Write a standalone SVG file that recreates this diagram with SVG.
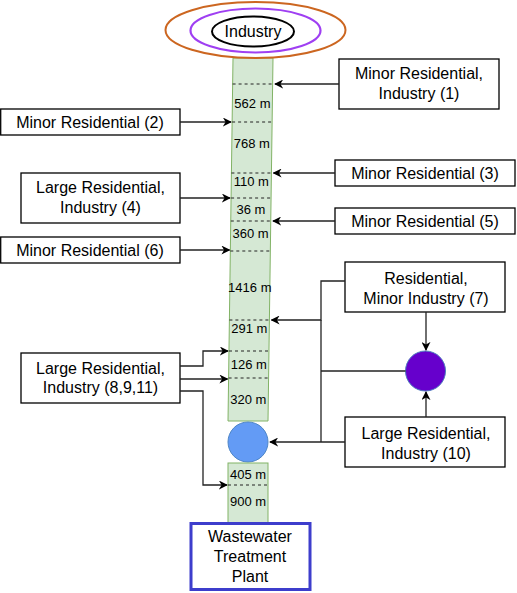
<svg xmlns="http://www.w3.org/2000/svg" width="517" height="593" viewBox="0 0 517 593">
<defs>
<marker id="arr" viewBox="0 0 10 10" refX="9" refY="5" markerWidth="9" markerHeight="9" markerUnits="userSpaceOnUse" orient="auto">
<path d="M0,0 L10,5 L0,10 L3,5 z" fill="#000"/>
</marker>
<style>
text{font-family:"Liberation Sans",Arial,sans-serif;fill:#000;text-anchor:middle}
.box{fill:#fff;stroke:#000;stroke-width:1.3}
.t{font-size:16px}
.m{font-size:13px}
.dash{stroke:#222;stroke-width:1;stroke-dasharray:3,3;fill:none}
.c{fill:none;stroke:#222;stroke-width:1.3}
.ca{fill:none;stroke:#222;stroke-width:1.3;marker-end:url(#arr)}
</style>
</defs>
<rect width="517" height="593" fill="#fff"/>

<g id="pipe-upper">
<polygon points="233,58 273,58 268,421 228,421" fill="#d5e8d4" stroke="#82b366" stroke-width="1"/>
<line class="dash" x1="232.6" y1="84" x2="272.6" y2="84"/>
<line class="dash" x1="232.1" y1="122" x2="272.1" y2="122"/>
<line class="dash" x1="231.4" y1="173" x2="271.4" y2="173"/>
<line class="dash" x1="231.1" y1="198" x2="271.1" y2="198"/>
<line class="dash" x1="230.8" y1="221" x2="270.8" y2="221"/>
<line class="dash" x1="230.3" y1="251" x2="270.3" y2="251"/>
<line class="dash" x1="229.4" y1="320" x2="269.4" y2="320"/>
<line class="dash" x1="229.0" y1="351" x2="269.0" y2="351"/>
<line class="dash" x1="228.6" y1="378" x2="268.6" y2="378"/>
<text class="m" x="252.4" y="107.5">562 m</text>
<text class="m" x="251.8" y="147.5">768 m</text>
<text class="m" x="251.3" y="185.5">110 m</text>
<text class="m" x="250.9" y="213.5">36 m</text>
<text class="m" x="250.6" y="237.5">360 m</text>
<text class="m" x="249.8" y="291.5">1416 m</text>
<text class="m" x="249.3" y="332.5">291 m</text>
<text class="m" x="248.8" y="368.5">126 m</text>
<text class="m" x="248.3" y="403.5">320 m</text>
</g>

<g id="industry">
<ellipse cx="255.5" cy="30" rx="90" ry="28" fill="#fff" stroke="#cc6620" stroke-width="2"/>
<ellipse cx="255.5" cy="30.5" rx="65" ry="22" fill="#fff" stroke="#9f3ff2" stroke-width="2.2"/>
<ellipse cx="253" cy="31.5" rx="41" ry="15" fill="#fff" stroke="#000" stroke-width="2"/>
<text class="t" x="253" y="37">Industry</text>
</g>

<g id="junction-blue">
<circle cx="248" cy="442" r="20" fill="#639bf5" stroke="#4e86c6" stroke-width="1"/>
</g>

<g id="pipe-lower">
<rect x="228" y="463" width="40" height="60" fill="#d5e8d4" stroke="#82b366" stroke-width="1"/>
<line class="dash" x1="228" y1="485" x2="268" y2="485"/>
<text class="m" x="248" y="478.5">405 m</text>
<text class="m" x="248" y="505.5">900 m</text>
</g>

<g id="wwtp">
<rect x="191" y="523.5" width="119" height="66" fill="#fff" stroke="#3d3dcc" stroke-width="3"/>
<text class="t" x="250" y="541.5">Wastewater</text>
<text class="t" x="250" y="562">Treatment</text>
<text class="t" x="250" y="582">Plant</text>
</g>

<g id="junction-purple">
<circle cx="425.5" cy="371" r="20" fill="#6600cc" stroke="#4f7fbf" stroke-width="1"/>
</g>

<g id="n1">
<rect class="box" x="339" y="59" width="160" height="50"/>
<text class="t" x="419" y="79">Minor Residential,</text>
<text class="t" x="419" y="99">Industry (1)</text>
</g>
<g id="n2">
<rect class="box" x="0.7" y="109" width="179.3" height="26"/>
<text class="t" x="90" y="127.5">Minor Residential (2)</text>
</g>
<g id="n3">
<rect class="box" x="335" y="160" width="180" height="26"/>
<text class="t" x="425" y="178.5">Minor Residential (3)</text>
</g>
<g id="n4">
<rect class="box" x="21" y="173" width="159" height="50"/>
<text class="t" x="100.5" y="193">Large Residential,</text>
<text class="t" x="100.5" y="213">Industry (4)</text>
</g>
<g id="n5">
<rect class="box" x="335" y="208" width="180" height="26"/>
<text class="t" x="425" y="226.5">Minor Residential (5)</text>
</g>
<g id="n6">
<rect class="box" x="0.7" y="237" width="179.3" height="26"/>
<text class="t" x="90" y="255.5">Minor Residential (6)</text>
</g>
<g id="n7">
<rect class="box" x="345" y="262" width="160" height="50"/>
<text class="t" x="426" y="283.5">Residential,</text>
<text class="t" x="426" y="303.5">Minor Industry (7)</text>
</g>
<g id="n8">
<rect class="box" x="21" y="353" width="159" height="50"/>
<text class="t" x="100.5" y="373.5">Large Residential,</text>
<text class="t" x="100.5" y="393">Industry (8,9,11)</text>
</g>
<g id="n10">
<rect class="box" x="345" y="417" width="160" height="50"/>
<text class="t" x="426" y="438.5">Large Residential,</text>
<text class="t" x="426" y="458.5">Industry (10)</text>
</g>

<g id="connectors">
<path class="ca" d="M339,84 L275,84"/>
<path class="ca" d="M180,122 L231,122"/>
<path class="ca" d="M335,173 L273.5,173"/>
<path class="ca" d="M180,198 L230,198"/>
<path class="ca" d="M335,221 L273,221"/>
<path class="ca" d="M180,250 L229.5,250"/>
<path class="ca" d="M345,281 L321,281 L321,320 L271.5,320"/>
<path class="c" d="M405.5,371 L321,371"/>
<path class="ca" d="M345,442 L321,442 L321,442 L270,442"/>
<path class="c" d="M321,320 L321,442"/>
<path class="ca" d="M426,312 L426,350"/>
<path class="ca" d="M426,417 L426,392"/>
<path class="ca" d="M180,366 L203,366 L203,351 L228,351"/>
<path class="ca" d="M180,379 L227.5,379"/>
<path class="ca" d="M180,391 L203,391 L203,485 L227,485"/>
</g>
</svg>
